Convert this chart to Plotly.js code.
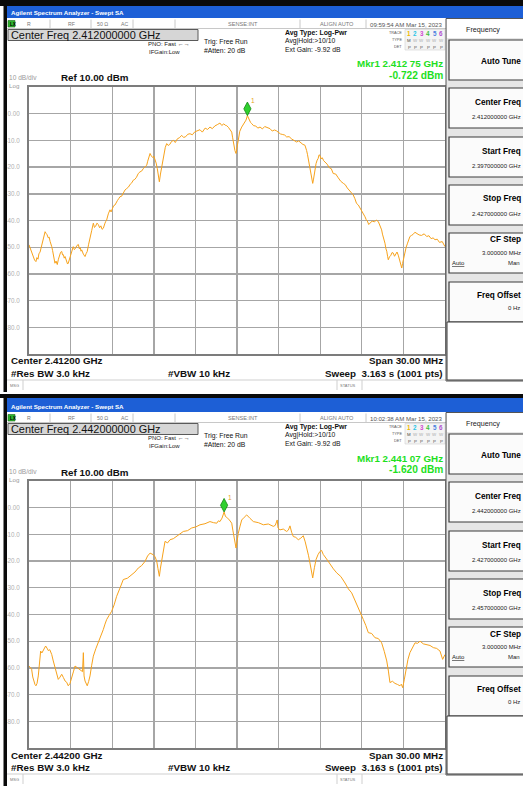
<!DOCTYPE html>
<html><head><meta charset="utf-8">
<script src="https://cdn.plot.ly/plotly-3.0.1.min.js"></script>
<style>html,body{margin:0;padding:0;background:#fff;}#chart{width:523px;height:789px;}</style>
</head><body><div id="chart"></div>
<script>
const W = 523, H = 789;

// ---------- data ----------
const yTickVals = [0, -10, -20, -30, -40, -50, -60, -70, -80];
const yTickText = ['0.00', '-10.0', '-20.0', '-30.0', '-40.0', '-50.0', '-60.0', '-70.0', '-80.0'];

// Screen 1 : offset from 2397 MHz (MHz) and level (dBm)
const offset1 = [0.00,0.08,0.15,0.22,0.31,0.40,0.50,0.57,0.65,0.72,0.79,0.85,0.92,0.98,1.03,1.10,1.16,1.23,1.30,1.39,1.45,1.52,1.58,1.64,1.70,1.75,1.81,1.87,1.95,2.04,2.12,2.20,2.28,2.36,2.42,2.48,2.54,2.60,2.66,2.72,2.78,2.83,2.92,3.01,3.10,3.19,3.27,3.35,3.45,3.56,3.63,3.70,3.75,3.80,3.92,4.04,4.12,4.20,4.30,4.40,4.52,4.64,4.72,4.80,4.90,5.00,5.09,5.18,5.27,5.36,5.42,5.48,5.54,5.60,5.72,5.84,5.92,6.00,6.10,6.20,6.29,6.38,6.47,6.56,6.68,6.80,6.92,7.05,7.17,7.30,7.41,7.52,7.63,7.75,7.88,8.00,8.12,8.25,8.37,8.49,8.56,8.62,8.68,8.73,8.82,8.92,9.00,9.09,9.17,9.25,9.33,9.40,9.48,9.57,9.65,9.74,9.83,9.93,10.04,10.15,10.28,10.41,10.55,10.70,10.85,11.01,11.15,11.30,11.45,11.61,11.78,11.95,12.14,12.33,12.50,12.70,12.88,13.05,13.22,13.40,13.58,13.77,13.90,14.05,14.15,14.26,14.38,14.50,14.56,14.62,14.68,14.73,14.79,14.85,14.93,15.00,15.09,15.20,15.34,15.45,15.55,15.65,15.75,15.83,15.90,15.98,16.06,16.20,16.35,16.50,16.66,16.83,17.00,17.19,17.38,17.54,17.70,17.84,17.98,18.14,18.30,18.44,18.58,18.76,18.95,19.12,19.30,19.45,19.60,19.75,19.90,19.96,20.02,20.08,20.14,20.22,20.30,20.38,20.46,20.52,20.58,20.64,20.70,20.78,20.85,20.92,20.98,21.06,21.15,21.25,21.35,21.50,21.65,21.80,21.94,22.12,22.30,22.48,22.67,22.81,22.95,23.11,23.27,23.38,23.50,23.62,23.75,23.88,24.00,24.12,24.23,24.32,24.40,24.50,24.59,24.75,24.90,25.05,25.19,25.25,25.30,25.37,25.43,25.49,25.55,25.61,25.67,25.74,25.80,25.86,25.91,26.00,26.10,26.18,26.27,26.36,26.45,26.54,26.63,26.69,26.75,26.82,26.88,26.94,27.00,27.05,27.11,27.20,27.30,27.38,27.47,27.58,27.70,27.83,27.96,28.13,28.30,28.50,28.68,28.84,29.00,29.14,29.28,29.44,29.60,29.80,30.00];
const level1 = [-49.1,-50.4,-51.0,-52.6,-53.5,-54.8,-55.4,-53.9,-54.5,-52.3,-52.0,-50.6,-49.0,-47.9,-46.5,-45.8,-44.2,-44.8,-45.3,-46.5,-46.2,-47.8,-48.5,-49.8,-51.2,-52.5,-54.6,-56.0,-55.2,-56.5,-54.5,-53.0,-51.9,-51.6,-52.9,-52.8,-54.1,-53.5,-54.6,-55.0,-56.3,-56.0,-54.2,-53.5,-51.4,-49.8,-50.9,-50.5,-49.4,-49.0,-50.6,-50.2,-51.5,-51.0,-52.6,-53.5,-52.4,-51.6,-48.9,-46.0,-43.8,-41.0,-42.6,-42.2,-41.0,-41.5,-42.7,-42.0,-43.3,-42.9,-41.6,-41.0,-40.3,-39.8,-37.5,-36.0,-36.8,-35.6,-34.5,-34.2,-33.1,-32.5,-31.8,-31.1,-30.9,-29.8,-28.6,-28.0,-27.5,-26.4,-25.9,-24.9,-24.6,-23.8,-22.4,-21.8,-21.5,-20.5,-19.9,-19.3,-17.8,-16.5,-15.3,-14.9,-15.8,-16.4,-15.9,-17.0,-18.5,-20.5,-23.0,-25.5,-22.6,-20.0,-16.8,-14.3,-12.6,-11.2,-11.9,-11.5,-10.4,-10.0,-10.8,-9.4,-9.0,-8.1,-8.9,-8.6,-7.7,-7.5,-7.9,-6.8,-6.5,-6.0,-6.9,-5.4,-5.9,-5.0,-5.6,-4.6,-4.1,-3.5,-4.4,-3.8,-4.3,-4.5,-5.1,-5.8,-6.2,-6.9,-8.8,-10.6,-12.5,-13.8,-14.9,-12.4,-8.7,-6.6,-5.0,-4.2,-3.5,-2.4,-0.72,-1.9,-2.9,-3.3,-3.7,-4.5,-4.6,-5.4,-5.0,-5.7,-4.8,-5.3,-5.6,-6.5,-6.1,-6.4,-6.9,-7.6,-7.8,-8.0,-8.7,-8.6,-9.5,-10.2,-10.6,-10.2,-11.0,-11.5,-11.8,-12.6,-13.8,-15.2,-16.8,-19.0,-21.5,-24.0,-26.1,-24.5,-22.0,-20.3,-18.7,-17.4,-16.8,-15.4,-15.6,-16.9,-16.5,-17.6,-18.0,-18.9,-20.2,-20.6,-22.4,-22.6,-24.0,-25.3,-26.1,-26.6,-27.8,-28.9,-29.9,-30.4,-31.8,-33.6,-34.2,-35.4,-36.5,-37.2,-38.6,-39.7,-40.2,-41.5,-41.0,-40.2,-40.5,-39.9,-40.4,-41.2,-41.5,-42.6,-43.5,-45.1,-46.0,-47.6,-48.5,-50.6,-51.5,-53.4,-54.7,-53.6,-53.0,-52.0,-52.2,-53.4,-52.6,-51.8,-53.0,-54.3,-55.0,-56.6,-57.8,-56.1,-54.5,-52.8,-51.6,-50.0,-48.5,-47.2,-46.0,-45.6,-45.2,-44.4,-44.8,-45.4,-45.6,-45.0,-46.0,-45.7,-46.8,-46.5,-47.2,-47.0,-48.2,-47.9,-49.8];

// Screen 2 : offset from 2427 MHz (MHz) and level (dBm)
const offset2 = [0.00,0.10,0.19,0.27,0.36,0.43,0.50,0.58,0.67,0.75,0.84,0.93,1.03,1.11,1.20,1.30,1.39,1.50,1.64,1.75,1.87,1.98,2.11,2.23,2.36,2.48,2.60,2.72,2.83,2.95,3.08,3.20,3.32,3.44,3.56,3.68,3.80,3.86,3.92,3.97,4.04,4.12,4.20,4.30,4.40,4.52,4.64,4.82,5.00,5.18,5.36,5.48,5.60,5.78,5.96,6.14,6.32,6.56,6.80,7.10,7.41,7.64,7.88,8.12,8.37,8.55,8.73,8.85,8.96,9.09,9.21,9.30,9.40,9.48,9.57,9.68,9.81,9.99,10.17,10.41,10.65,10.89,11.13,11.43,11.73,12.03,12.33,12.69,13.05,13.30,13.54,13.66,13.77,13.92,14.07,14.17,14.26,14.45,14.62,14.70,14.78,14.86,14.93,15.01,15.09,15.22,15.34,15.52,15.70,15.94,16.18,16.54,16.90,17.26,17.62,17.76,17.90,17.96,18.10,18.34,18.58,18.70,18.82,18.94,19.06,19.24,19.42,19.60,19.78,19.92,20.07,20.16,20.26,20.36,20.46,20.58,20.70,20.84,20.98,21.10,21.22,21.46,21.71,21.95,22.19,22.49,22.79,23.03,23.27,23.51,23.75,23.93,24.11,24.29,24.47,24.71,24.95,25.19,25.43,25.62,25.80,25.92,26.03,26.21,26.39,26.57,26.75,26.85,26.95,27.07,27.19,27.33,27.47,27.66,27.84,28.02,28.20,28.44,28.68,28.92,29.16,29.40,29.64,29.74,29.83,30.00];
const level2 = [-59.3,-59.8,-60.5,-63.4,-65.5,-66.2,-66.7,-65.8,-63.0,-58.0,-53.7,-54.4,-53.5,-52.4,-51.8,-52.6,-53.5,-53.2,-55.0,-57.4,-59.9,-61.8,-64.3,-63.5,-62.4,-63.6,-64.9,-65.4,-66.7,-65.9,-64.0,-61.5,-59.3,-59.8,-60.0,-60.6,-61.0,-61.4,-54.3,-63.0,-64.9,-66.0,-66.7,-65.1,-63.0,-59.0,-55.6,-52.8,-50.6,-48.3,-45.6,-43.6,-41.9,-40.3,-38.8,-36.4,-33.2,-30.1,-26.9,-26.4,-25.1,-24.1,-22.6,-21.7,-20.1,-18.1,-17.0,-17.2,-17.6,-18.4,-20.0,-22.8,-25.7,-22.6,-19.4,-15.3,-12.6,-13.2,-12.0,-11.6,-10.8,-10.0,-8.9,-8.6,-7.6,-7.2,-6.4,-6.0,-5.2,-5.6,-5.8,-4.9,-5.2,-3.9,-1.62,-3.3,-3.6,-4.6,-5.8,-8.4,-10.8,-13.2,-15.1,-12.5,-9.6,-6.9,-4.6,-3.6,-2.7,-4.0,-5.2,-5.6,-6.4,-6.1,-7.0,-6.6,-4.6,-7.6,-8.3,-8.0,-8.9,-8.4,-6.8,-9.2,-10.8,-11.1,-12.0,-11.4,-10.5,-12.8,-15.7,-18.0,-20.7,-23.5,-26.3,-22.5,-19.4,-17.6,-16.4,-16.0,-17.5,-19.2,-21.3,-22.9,-24.4,-25.8,-28.2,-30.4,-31.9,-34.7,-37.5,-39.2,-41.9,-44.1,-46.8,-47.1,-48.7,-49.0,-50.6,-53.8,-57.4,-61.2,-65.5,-65.0,-65.8,-66.2,-66.7,-66.1,-67.4,-64.2,-60.5,-56.8,-54.3,-52.4,-50.6,-50.8,-50.0,-51.0,-51.2,-51.6,-52.4,-52.7,-53.7,-55.0,-56.8,-55.0];

const screens = [
  { start: 2397, stop: 2427, offset: offset1, level: level1, mkrFreq: 2412.75, mkrLevel: -0.722,
    centerFreq: 'Center Freq 2.412000000 GHz', time: '09:59:54 AM Mar 15, 2023',
    mkrLine1: 'Mkr1 2.412 75 GHz', mkrLine2: '-0.722 dBm', center: 'Center 2.41200 GHz',
    cfVal: '2.412000000 GHz', startVal: '2.397000000 GHz', stopVal: '2.427000000 GHz' },
  { start: 2427, stop: 2457, offset: offset2, level: level2, mkrFreq: 2441.07, mkrLevel: -1.620,
    centerFreq: 'Center Freq 2.442000000 GHz', time: '10:02:38 AM Mar 15, 2023',
    mkrLine1: 'Mkr1 2.441 07 GHz', mkrLine2: '-1.620 dBm', center: 'Center 2.44200 GHz',
    cfVal: '2.442000000 GHz', startVal: '2.427000000 GHz', stopVal: '2.457000000 GHz' }
];

// ---------- layout helpers ----------
const FONT = 'Liberation Sans, Arial, sans-serif';
const px = v => v / W;
const py = v => 1 - v / H;
const shapes = [], annotations = [];
function rect(x0, y0, x1, y1, fill, line, lw) {
  shapes.push({type:'rect', xref:'paper', yref:'paper', x0:px(x0), x1:px(x1), y0:py(y1), y1:py(y0),
    fillcolor: fill || 'rgba(0,0,0,0)', line:{color: line || 'rgba(0,0,0,0)', width: lw === undefined ? 1 : lw}});
}
function hline(x0, x1, y, color, lw) {
  shapes.push({type:'line', xref:'paper', yref:'paper', x0:px(x0), x1:px(x1), y0:py(y), y1:py(y), line:{color, width:lw||1}});
}
function vline(x, y0, y1, color, lw) {
  shapes.push({type:'line', xref:'paper', yref:'paper', x0:px(x), x1:px(x), y0:py(y0), y1:py(y1), line:{color, width:lw||1}});
}
function txt(x, y, text, size, o) {
  o = o || {};
  annotations.push({xref:'paper', yref:'paper', x:px(x), y:py(y), text, showarrow:false,
    xanchor:o.anchor || 'left', yanchor:'middle', borderpad:0,
    font:{family:FONT, size, color:o.color || '#000', weight: o.bold ? 'bold' : 'normal'}});
}

function buildScreen(s, dy, barTop) {
  // top black strip + title bar
  rect(0, dy + 0, 523, dy + barTop, '#0a0a0a', null, 0);
  rect(6, dy + barTop, 523, dy + 18, '#1d5fd6', null, 0);
  txt(10, dy + 12.3, 'Agilent Spectrum Analyzer - Swept SA', 6.2, {color:'#fff', bold:true});
  // left black frame
  rect(3.5, dy + barTop, 7, dy + 392, '#0a0a0a', null, 0);
  // status row
  hline(7, 446, dy + 28.5, '#c8c8c8', 1);
  rect(8, dy + 20.5, 15, dy + 27, '#2fb52f', '#1a6a1a', 0.6);
  txt(8.5, dy + 24, 'LX', 4.5, {color:'#000', bold:true});
  txt(26, dy + 24, 'R', 5.2, {color:'#777'});
  txt(67, dy + 24, 'RF', 5.2, {color:'#777'});
  txt(96, dy + 24, '50 Ω', 5.2, {color:'#777'});
  txt(120, dy + 24, 'AC', 5.2, {color:'#777'});
  txt(227, dy + 24, 'SENSE:INT', 5.6, {color:'#777'});
  txt(319, dy + 24, 'ALIGN AUTO', 5.6, {color:'#777'});
  txt(369, dy + 24, s.time, 6.1, {color:'#555'});
  [50, 91, 133, 175, 300, 366].forEach(x => vline(x, dy + 19.5, dy + 28, '#c8c8c8', 1));
  // Center freq box
  rect(8, dy + 29.5, 198, dy + 40.5, '#d6d6d6', '#5a5a5a', 1);
  txt(10, dy + 35, s.centerFreq, 10.9, {color:'#111'});
  txt(147, dy + 44, 'PNO: Fast ←→', 6, {color:'#222'});
  txt(148, dy + 52, 'IFGain:Low', 6, {color:'#222'});
  txt(203, dy + 42, 'Trig: Free Run', 6.8, {color:'#111'});
  txt(203, dy + 50.5, '#Atten: 20 dB', 6.8, {color:'#111'});
  txt(284, dy + 33, 'Avg Type: Log-Pwr', 6.9, {color:'#111', bold:true});
  txt(284, dy + 41.3, 'Avg|Hold:>10/10', 6.8, {color:'#111'});
  txt(284, dy + 49.6, 'Ext Gain: -9.92 dB', 6.8, {color:'#111'});
  // trace indicator
  rect(405, dy + 29.5, 445, dy + 50, '#f4f4f4', '#d0d0d0', 0.6);
  txt(403, dy + 33, 'TRACE', 3.8, {color:'#555', anchor:'right'});
  txt(403, dy + 40, 'TYPE', 3.8, {color:'#555', anchor:'right'});
  txt(403, dy + 47, 'DET', 3.8, {color:'#555', anchor:'right'});
  const tcol = ['#f0b800', '#29c5e6', '#d04ad0', '#3fbf3f', '#4a7fe0', '#b050d0'];
  tcol.forEach((c, i) => {
    txt(409 + i * 6.4, dy + 33.5, String(i + 1), 6.3, {color:c, bold:true, anchor:'center'});
    txt(409 + i * 6.4, dy + 40.5, i === 0 ? 'M' : 'W', 4.4, {color:i === 0 ? '#444' : '#aaa', anchor:'center'});
    txt(409 + i * 6.4, dy + 47, 'P', 4.4, {color:'#555', anchor:'center'});
  });
  // marker readout
  txt(444, dy + 64, s.mkrLine1, 9.8, {color:'#1ee01e', bold:true, anchor:'right'});
  txt(444, dy + 76, s.mkrLine2, 10.2, {color:'#1ee01e', bold:true, anchor:'right'});
  // scale info
  txt(8, dy + 77.5, '10 dB/div', 6.6, {color:'#9a9a9a'});
  txt(8, dy + 85.2, 'Log', 6.2, {color:'#9a9a9a'});
  txt(60, dy + 78, 'Ref 10.00 dBm', 9.8, {color:'#111', bold:true});
  // bottom annotations
  txt(10, dy + 361, s.center, 9.8, {color:'#111', bold:true});
  txt(10, dy + 373, '#Res BW 3.0 kHz', 9.8, {color:'#111', bold:true});
  txt(167, dy + 373, '#VBW 10 kHz', 9.8, {color:'#111', bold:true});
  txt(444, dy + 361, 'Span 30.00 MHz', 9.8, {color:'#111', bold:true, anchor:'right'});
  txt(444, dy + 373, 'Sweep  3.163 s (1001 pts)', 9.8, {color:'#111', bold:true, anchor:'right'});
  // message row
  hline(7, 446, dy + 380, '#cfcfcf', 1);
  vline(23, dy + 380, dy + 390, '#cfcfcf', 1);
  vline(337, dy + 380, dy + 390, '#cfcfcf', 1);
  vline(362, dy + 380, dy + 390, '#cfcfcf', 1);
  txt(9, dy + 385.5, 'MSG', 4, {color:'#777'});
  txt(339, dy + 385.5, 'STATUS', 4, {color:'#777'});
  // right soft-key panel
  rect(446, dy + 18.5, 530, dy + 381, '#e6e6e6', '#555', 1);
  rect(447, dy + 19, 530, dy + 38, '#ffffff', null, 0);
  txt(465, dy + 29, 'Frequency', 7.2, {color:'#222'});
  const boxes = [[40, 80], [88, 128], [137, 177], [185, 225], [233, 273], [282, 322]];
  boxes.forEach(b => rect(449, dy + b[0], 530, dy + b[1], '#fbfbfb', '#3a3a3a', 1.2));
  txt(522, dy + 61, 'Auto Tune', 8.2, {bold:true, anchor:'right'});
  txt(522, dy + 102, 'Center Freq', 8.2, {bold:true, anchor:'right'});
  txt(522, dy + 117, s.cfVal, 6, {color:'#222', anchor:'right'});
  txt(522, dy + 151, 'Start Freq', 8.2, {bold:true, anchor:'right'});
  txt(522, dy + 166, s.startVal, 6, {color:'#222', anchor:'right'});
  txt(522, dy + 199, 'Stop Freq', 8.2, {bold:true, anchor:'right'});
  txt(522, dy + 214, s.stopVal, 6, {color:'#222', anchor:'right'});
  txt(522, dy + 240, 'CF Step', 8.2, {bold:true, anchor:'right'});
  txt(522, dy + 253, '3.000000 MHz', 6, {color:'#222', anchor:'right'});
  txt(451, dy + 263, '<u>Auto</u>', 6, {color:'#222'});
  txt(521, dy + 263, 'Man', 6, {color:'#222', anchor:'right'});
  txt(522, dy + 295, 'Freq Offset', 8.2, {bold:true, anchor:'right'});
  txt(521, dy + 308, '0 Hz', 6, {color:'#222', anchor:'right'});
  rect(447, dy + 322, 530, dy + 380, '#ffffff', '#3a3a3a', 1);
}

buildScreen(screens[0], 0, 6);
buildScreen(screens[1], 394, 4);

const traces = [];
screens.forEach((s, i) => {
  const xa = i === 0 ? 'x' : 'x2', ya = i === 0 ? 'y' : 'y2';
  traces.push({type:'scatter', mode:'lines', x:s.offset.map(o => s.start + o), y:s.level, xaxis:xa, yaxis:ya,
    line:{color:'#f7a21b', width:1}, hoverinfo:'skip'});
  // marker diamond, pixel-sized, anchored on the marker point
  shapes.push({type:'path', xref:xa, yref:ya, xsizemode:'pixel', ysizemode:'pixel',
    xanchor:s.mkrFreq, yanchor:s.mkrLevel, path:'M0,0 L3.6,6.8 L0,13.6 L-3.6,6.8 Z',
    fillcolor:'#2fd02f', line:{color:'#138a13', width:0.8}});
  annotations.push({xref:xa, yref:ya, x:s.mkrFreq, y:s.mkrLevel, text:'1', showarrow:false,
    xshift:6, yshift:15, font:{family:FONT, size:6.5, color:'#e8a317'}});
});

function xAxis(s, anchor) {
  return {domain:[29 / W, 445 / W], range:[s.start, s.stop], tick0:s.start, dtick:3,
    showticklabels:false, ticks:'', showgrid:true, gridcolor:'#a6a6a6', gridwidth:1.4,
    zeroline:false, showline:true, mirror:true, linecolor:'#7c7c7c', linewidth:2, anchor, fixedrange:true};
}
function yAxis(d0, d1, anchor) {
  return {domain:[py(d1), py(d0)], range:[-90, 10], tickvals:yTickVals, ticktext:yTickText,
    tickfont:{family:FONT, size:6.3, color:'#b0b0b0'}, ticks:'', ticklabelstandoff:6,
    showgrid:true, gridcolor:'#a6a6a6', gridwidth:1.4, zeroline:false, showline:true, mirror:true,
    linecolor:'#7c7c7c', linewidth:2, anchor, fixedrange:true};
}

const layout = {
  width:W, height:H, margin:{l:0, r:0, t:0, b:0}, showlegend:false,
  paper_bgcolor:'#ffffff', plot_bgcolor:'#ffffff',
  xaxis:xAxis(screens[0], 'y'), yaxis:yAxis(87, 354, 'x'),
  xaxis2:xAxis(screens[1], 'y2'), yaxis2:yAxis(481, 748, 'x2'),
  shapes, annotations
};
Plotly.newPlot('chart', traces, layout, {staticPlot:true, displayModeBar:false});
</script></body></html>
